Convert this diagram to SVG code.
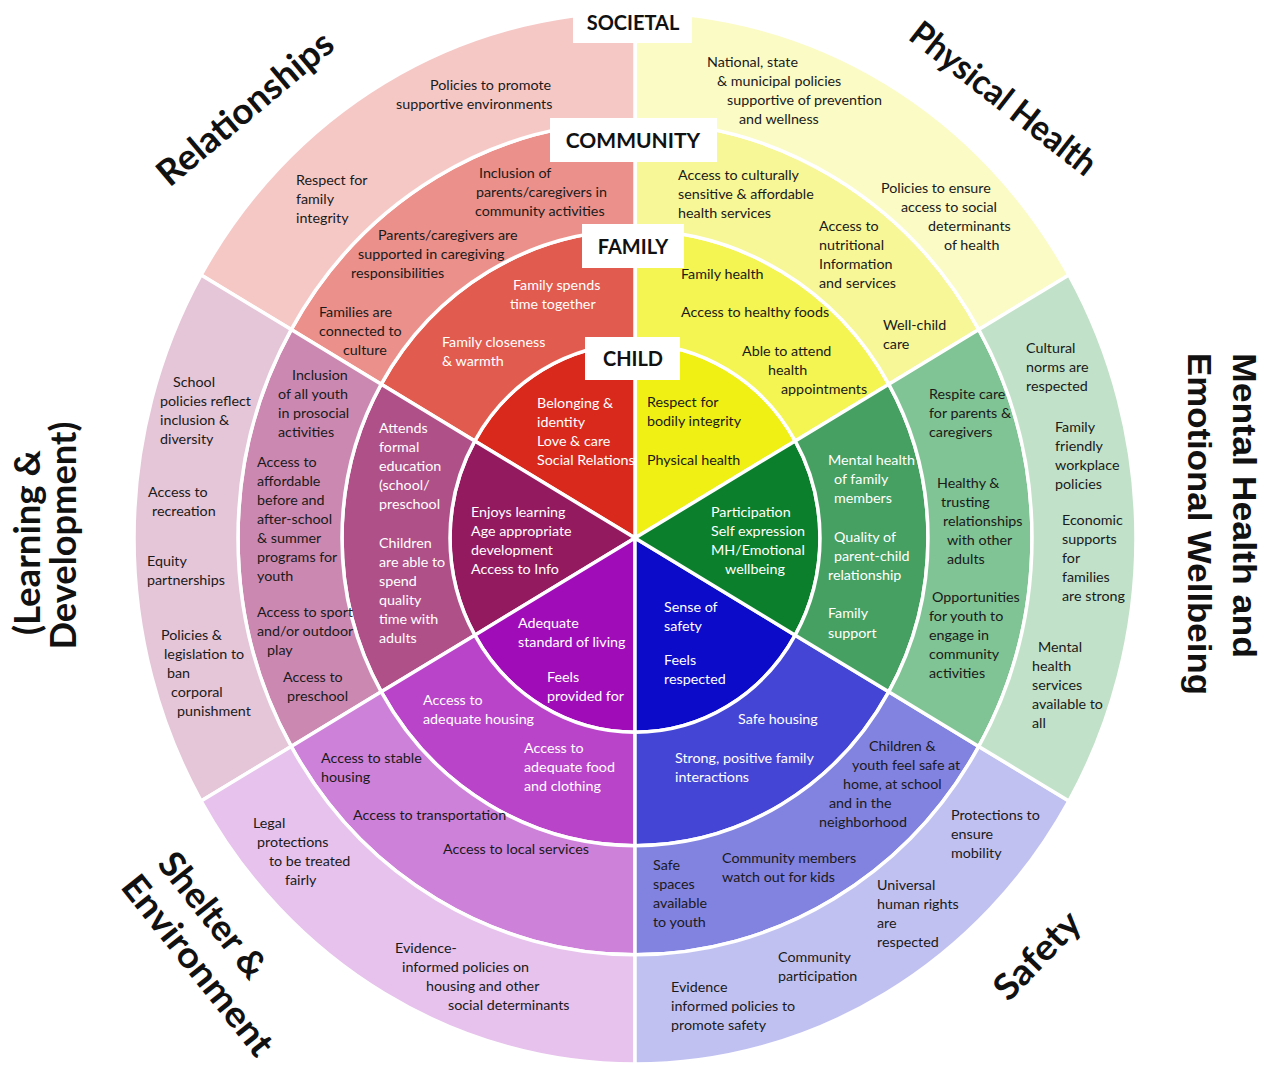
<svg xmlns="http://www.w3.org/2000/svg" width="1271" height="1066" viewBox="0 0 1271 1066">
<style>
.seg{stroke:#fff;stroke-width:3.5;stroke-linejoin:round}
.t{font-family:Lato,"Liberation Sans",sans-serif;font-size:14.3px;fill:#1a1a1a}
.w{fill:#fff}
.box{fill:#fff}
.lab{font-family:Lato,"Liberation Sans",sans-serif;font-weight:bold;font-size:20px;fill:#111;text-anchor:middle}
.big{font-family:Lato,"Liberation Sans",sans-serif;font-weight:bold;font-size:36px;fill:#111;text-anchor:middle}
.big2{font-family:"Liberation Sans",Arial,sans-serif;font-weight:bold;font-size:34px;fill:#111;text-anchor:middle}
</style>
<rect width="1271" height="1066" fill="#fff"/>

<!-- CHILD ring -->
<g id="phy-child"><path class="seg" fill="#f0f014" d="M635,538 L795.21,440.88 A185,194.25 0 0 0 635,343.75 Z"/>
<text class="t"><tspan x="647" y="407">Respect for</tspan><tspan x="647" y="426">bodily integrity</tspan><tspan x="647" y="465">Physical health</tspan></text></g>
<g id="rel-child"><path class="seg" fill="#d9291d" d="M635,538 L635,343.75 A185,194.25 0 0 0 474.79,440.88 Z"/>
<text class="t w"><tspan x="537" y="408">Belonging &amp;</tspan><tspan x="537" y="427">identity</tspan><tspan x="537" y="446">Love &amp; care</tspan><tspan x="537" y="465">Social Relations</tspan></text></g>
<g id="lea-child"><path class="seg" fill="#941a60" d="M635,538 L474.79,440.88 A185,194.25 0 0 0 474.79,635.13 Z"/>
<text class="t w"><tspan x="471" y="517">Enjoys learning</tspan><tspan x="471" y="536">Age appropriate</tspan><tspan x="471" y="555">development</tspan><tspan x="471" y="574">Access to Info</tspan></text></g>
<g id="she-child"><path class="seg" fill="#a00db8" d="M635,538 L474.79,635.13 A185,194.25 0 0 0 635,732.25 Z"/>
<text class="t w"><tspan x="518" y="628">Adequate</tspan><tspan x="518" y="647">standard of living</tspan><tspan x="547" y="682">Feels</tspan><tspan x="547" y="701">provided for</tspan></text></g>
<g id="saf-child"><path class="seg" fill="#0b0bc9" d="M635,538 L635,732.25 A185,194.25 0 0 0 795.21,635.13 Z"/>
<text class="t w"><tspan x="664" y="612">Sense of</tspan><tspan x="664" y="631">safety</tspan><tspan x="664" y="665">Feels</tspan><tspan x="664" y="684">respected</tspan></text></g>
<g id="men-child"><path class="seg" fill="#0b7f2c" d="M635,538 L795.21,635.13 A185,194.25 0 0 0 795.21,440.88 Z"/>
<text class="t w"><tspan x="711" y="517">Participation</tspan><tspan x="711" y="536">Self expression</tspan><tspan x="711" y="555">MH/Emotional</tspan><tspan x="725" y="574">wellbeing</tspan></text></g>

<!-- FAMILY ring -->
<g id="phy-family"><path class="seg" fill="#f4f452" d="M888.74,384.17 A293,307.65 0 0 0 635,230.35 L635,343.75 A185,194.25 0 0 1 795.21,440.88 Z"/>
<text class="t"><tspan x="681" y="279">Family health</tspan><tspan x="681" y="317">Access to healthy foods</tspan><tspan x="742" y="356">Able to attend</tspan><tspan x="768" y="375">health</tspan><tspan x="781" y="394">appointments</tspan></text></g>
<g id="rel-family"><path class="seg" fill="#e25b4f" d="M635,230.35 A293,307.65 0 0 0 381.26,384.17 L474.79,440.88 A185,194.25 0 0 1 635,343.75 Z"/>
<text class="t w"><tspan x="513" y="290">Family spends</tspan><tspan x="510" y="309">time together</tspan><tspan x="442" y="347">Family closeness</tspan><tspan x="442" y="366">&amp; warmth</tspan></text></g>
<g id="lea-family"><path class="seg" fill="#b05088" d="M381.26,384.17 A293,307.65 0 0 0 381.26,691.83 L474.79,635.13 A185,194.25 0 0 1 474.79,440.88 Z"/>
<text class="t w"><tspan x="379" y="433">Attends</tspan><tspan x="379" y="452">formal</tspan><tspan x="379" y="471">education</tspan><tspan x="379" y="490">(school/</tspan><tspan x="379" y="509">preschool</tspan><tspan x="379" y="548">Children</tspan><tspan x="379" y="567">are able to</tspan><tspan x="379" y="586">spend</tspan><tspan x="379" y="605">quality</tspan><tspan x="379" y="624">time with</tspan><tspan x="379" y="643">adults</tspan></text></g>
<g id="she-family"><path class="seg" fill="#b944c9" d="M381.26,691.83 A293,307.65 0 0 0 635,845.65 L635,732.25 A185,194.25 0 0 1 474.79,635.13 Z"/>
<text class="t w"><tspan x="423" y="705">Access to</tspan><tspan x="423" y="724">adequate housing</tspan><tspan x="524" y="753">Access to</tspan><tspan x="524" y="772">adequate food</tspan><tspan x="524" y="791">and clothing</tspan></text></g>
<g id="saf-family"><path class="seg" fill="#4545d5" d="M635,845.65 A293,307.65 0 0 0 888.74,691.83 L795.21,635.13 A185,194.25 0 0 1 635,732.25 Z"/>
<text class="t w"><tspan x="738" y="724">Safe housing</tspan><tspan x="675" y="763">Strong, positive family</tspan><tspan x="675" y="782">interactions</tspan></text></g>
<g id="men-family"><path class="seg" fill="#45a061" d="M888.74,691.83 A293,307.65 0 0 0 888.74,384.17 L795.21,440.88 A185,194.25 0 0 1 795.21,635.13 Z"/>
<text class="t w"><tspan x="828" y="465">Mental health</tspan><tspan x="834" y="484">of family</tspan><tspan x="834" y="503">members</tspan><tspan x="834" y="542">Quality of</tspan><tspan x="834" y="561">parent-child</tspan><tspan x="828" y="580">relationship</tspan><tspan x="828" y="618">Family</tspan><tspan x="828" y="638">support</tspan></text></g>

<!-- COMMUNITY ring -->
<g id="phy-community"><path class="seg" fill="#f7f797" d="M978.81,329.57 A397,416.85 0 0 0 635,121.15 L635,230.35 A293,307.65 0 0 1 888.74,384.17 Z"/>
<text class="t"><tspan x="678" y="180">Access to culturally</tspan><tspan x="678" y="199">sensitive &amp; affordable</tspan><tspan x="678" y="218">health services</tspan><tspan x="819" y="231">Access to</tspan><tspan x="819" y="250">nutritional</tspan><tspan x="819" y="269">Information</tspan><tspan x="819" y="288">and services</tspan><tspan x="883" y="330">Well-child</tspan><tspan x="883" y="349">care</tspan></text></g>
<g id="rel-community"><path class="seg" fill="#eb908a" d="M635,121.15 A397,416.85 0 0 0 291.19,329.57 L381.26,384.17 A293,307.65 0 0 1 635,230.35 Z"/>
<text class="t"><tspan x="479" y="178">Inclusion of</tspan><tspan x="476" y="197">parents/caregivers in</tspan><tspan x="475" y="216">community activities</tspan><tspan x="378" y="240">Parents/caregivers are</tspan><tspan x="358" y="259">supported in caregiving</tspan><tspan x="351" y="278">responsibilities</tspan><tspan x="319" y="317">Families are</tspan><tspan x="319" y="336">connected to</tspan><tspan x="343" y="355">culture</tspan></text></g>
<g id="lea-community"><path class="seg" fill="#cb89b1" d="M291.19,329.57 A397,416.85 0 0 0 291.19,746.43 L381.26,691.83 A293,307.65 0 0 1 381.26,384.17 Z"/>
<text class="t"><tspan x="292" y="380">Inclusion</tspan><tspan x="278" y="399">of all youth</tspan><tspan x="278" y="418">in prosocial</tspan><tspan x="278" y="437">activities</tspan><tspan x="257" y="467">Access to</tspan><tspan x="257" y="486">affordable</tspan><tspan x="257" y="505">before and</tspan><tspan x="257" y="524">after-school</tspan><tspan x="257" y="543">&amp; summer</tspan><tspan x="257" y="562">programs for</tspan><tspan x="257" y="581">youth</tspan><tspan x="257" y="617">Access to sport</tspan><tspan x="257" y="636">and/or outdoor</tspan><tspan x="267" y="655">play</tspan><tspan x="283" y="682">Access to</tspan><tspan x="287" y="701">preschool</tspan></text></g>
<g id="she-community"><path class="seg" fill="#cd81d9" d="M291.19,746.43 A397,416.85 0 0 0 635,954.85 L635,845.65 A293,307.65 0 0 1 381.26,691.83 Z"/>
<text class="t"><tspan x="321" y="763">Access to stable</tspan><tspan x="321" y="782">housing</tspan><tspan x="353" y="820">Access to transportation</tspan><tspan x="443" y="854">Access to local services</tspan></text></g>
<g id="saf-community"><path class="seg" fill="#8282e1" d="M635,954.85 A397,416.85 0 0 0 978.81,746.43 L888.74,691.83 A293,307.65 0 0 1 635,845.65 Z"/>
<text class="t"><tspan x="869" y="751">Children &amp;</tspan><tspan x="852" y="770">youth feel safe at</tspan><tspan x="843" y="789">home, at school</tspan><tspan x="829" y="808">and in the</tspan><tspan x="819" y="827">neighborhood</tspan><tspan x="653" y="870">Safe</tspan><tspan x="653" y="889">spaces</tspan><tspan x="653" y="908">available</tspan><tspan x="653" y="927">to youth</tspan><tspan x="722" y="863">Community members</tspan><tspan x="722" y="882">watch out for kids</tspan></text></g>
<g id="men-community"><path class="seg" fill="#80c394" d="M978.81,746.43 A397,416.85 0 0 0 978.81,329.57 L888.74,384.17 A293,307.65 0 0 1 888.74,691.83 Z"/>
<text class="t"><tspan x="929" y="399">Respite care</tspan><tspan x="929" y="418">for parents &amp;</tspan><tspan x="929" y="437">caregivers</tspan><tspan x="937" y="488">Healthy &amp;</tspan><tspan x="941" y="507">trusting</tspan><tspan x="943" y="526">relationships</tspan><tspan x="947" y="545">with other</tspan><tspan x="947" y="564">adults</tspan><tspan x="932" y="602">Opportunities</tspan><tspan x="929" y="621">for youth to</tspan><tspan x="929" y="640">engage in</tspan><tspan x="929" y="659">community</tspan><tspan x="929" y="678">activities</tspan></text></g>

<!-- SOCIETAL ring -->
<g id="phy-societal"><path class="seg" fill="#fbfbc6" d="M1068.88,274.97 A501,526.05 0 0 0 635,11.95 L635,121.15 A397,416.85 0 0 1 978.81,329.57 Z"/>
<text class="t"><tspan x="707" y="67">National, state</tspan><tspan x="717" y="86">&amp; municipal policies</tspan><tspan x="727" y="105">supportive of prevention</tspan><tspan x="739" y="124">and wellness</tspan><tspan x="881" y="193">Policies to ensure</tspan><tspan x="901" y="212">access to social</tspan><tspan x="928" y="231">determinants</tspan><tspan x="944" y="250">of health</tspan></text></g>
<g id="rel-societal"><path class="seg" fill="#f5c8c6" d="M635,11.95 A501,526.05 0 0 0 201.12,274.97 L291.19,329.57 A397,416.85 0 0 1 635,121.15 Z"/>
<text class="t"><tspan x="430" y="90">Policies to promote</tspan><tspan x="396" y="109">supportive environments</tspan><tspan x="296" y="185">Respect for</tspan><tspan x="296" y="204">family</tspan><tspan x="296" y="223">integrity</tspan></text></g>
<g id="lea-societal"><path class="seg" fill="#e5c5d8" d="M201.12,274.97 A501,526.05 0 0 0 201.12,801.03 L291.19,746.43 A397,416.85 0 0 1 291.19,329.57 Z"/>
<text class="t"><tspan x="173" y="387">School</tspan><tspan x="160" y="406">policies reflect</tspan><tspan x="160" y="425">inclusion &amp;</tspan><tspan x="160" y="444">diversity</tspan><tspan x="148" y="497">Access to</tspan><tspan x="152" y="516">recreation</tspan><tspan x="147" y="566">Equity</tspan><tspan x="147" y="585">partnerships</tspan><tspan x="161" y="640">Policies &amp;</tspan><tspan x="164" y="659">legislation to</tspan><tspan x="167" y="678">ban</tspan><tspan x="171" y="697">corporal</tspan><tspan x="177" y="716">punishment</tspan></text></g>
<g id="she-societal"><path class="seg" fill="#e6c2ec" d="M201.12,801.03 A501,526.05 0 0 0 635,1064.05 L635,954.85 A397,416.85 0 0 1 291.19,746.43 Z"/>
<text class="t"><tspan x="253" y="828">Legal</tspan><tspan x="257" y="847">protections</tspan><tspan x="269" y="866">to be treated</tspan><tspan x="285" y="885">fairly</tspan><tspan x="395" y="953">Evidence-</tspan><tspan x="402" y="972">informed policies on</tspan><tspan x="426" y="991">housing and other</tspan><tspan x="448" y="1010">social determinants</tspan></text></g>
<g id="saf-societal"><path class="seg" fill="#c1c1f1" d="M635,1064.05 A501,526.05 0 0 0 1068.88,801.03 L978.81,746.43 A397,416.85 0 0 1 635,954.85 Z"/>
<text class="t"><tspan x="951" y="820">Protections to</tspan><tspan x="951" y="839">ensure</tspan><tspan x="951" y="858">mobility</tspan><tspan x="877" y="890">Universal</tspan><tspan x="877" y="909">human rights</tspan><tspan x="877" y="928">are</tspan><tspan x="877" y="947">respected</tspan><tspan x="778" y="962">Community</tspan><tspan x="778" y="981">participation</tspan><tspan x="671" y="992">Evidence</tspan><tspan x="671" y="1011">informed policies to</tspan><tspan x="671" y="1030">promote safety</tspan></text></g>
<g id="men-societal"><path class="seg" fill="#c1e1c9" d="M1068.88,801.03 A501,526.05 0 0 0 1068.88,274.97 L978.81,329.57 A397,416.85 0 0 1 978.81,746.43 Z"/>
<text class="t"><tspan x="1026" y="353">Cultural</tspan><tspan x="1026" y="372">norms are</tspan><tspan x="1026" y="391">respected</tspan><tspan x="1055" y="432">Family</tspan><tspan x="1055" y="451">friendly</tspan><tspan x="1055" y="470">workplace</tspan><tspan x="1055" y="489">policies</tspan><tspan x="1062" y="525">Economic</tspan><tspan x="1062" y="544">supports</tspan><tspan x="1062" y="563">for</tspan><tspan x="1062" y="582">families</tspan><tspan x="1062" y="601">are strong</tspan><tspan x="1038" y="652">Mental</tspan><tspan x="1032" y="671">health</tspan><tspan x="1032" y="690">services</tspan><tspan x="1032" y="709">available to</tspan><tspan x="1032" y="728">all</tspan></text></g>

<!-- ring level labels -->
<g id="label-societal"><rect class="box" x="573" y="0" width="119" height="43"/><text class="lab" x="633" y="30">SOCIETAL</text></g>
<g id="label-community"><rect class="box" x="550" y="118" width="167" height="44"/><text class="lab" x="633" y="147.5" style="font-size:21px">COMMUNITY</text></g>
<g id="label-family"><rect class="box" x="582" y="224" width="102" height="44"/><text class="lab" x="633" y="254">FAMILY</text></g>
<g id="label-child"><rect class="box" x="585" y="337" width="95" height="43"/><text class="lab" x="633" y="366">CHILD</text></g>

<!-- domain labels -->
<g id="domain-relationships"><text class="big" transform="translate(253,118) rotate(-40)" textLength="218" lengthAdjust="spacingAndGlyphs">Relationships</text></g>
<g id="domain-physical"><text class="big" style="font-size:35px" transform="translate(996,108) rotate(38)" textLength="226" lengthAdjust="spacingAndGlyphs">Physical Health</text></g>
<g id="domain-mental"><text class="big2" transform="translate(1233,505.5) rotate(90)" textLength="305" lengthAdjust="spacingAndGlyphs">Mental Health and</text>
<text class="big2" transform="translate(1188,524) rotate(90)" textLength="342" lengthAdjust="spacingAndGlyphs">Emotional Wellbeing</text></g>
<g id="domain-learning"><text class="big" style="font-size:37px" transform="translate(40,542.5) rotate(-90)" textLength="185" lengthAdjust="spacingAndGlyphs">(Learning &amp;</text>
<text class="big" style="font-size:37px" transform="translate(76,535.5) rotate(-90)" textLength="228" lengthAdjust="spacingAndGlyphs">Development)</text></g>
<g id="domain-shelter"><text class="big" transform="translate(203,923) rotate(51.5)" textLength="150" lengthAdjust="spacingAndGlyphs">Shelter &amp;</text>
<text class="big" transform="translate(188,973) rotate(51.5)" textLength="220" lengthAdjust="spacingAndGlyphs">Environment</text></g>
<g id="domain-safety"><text class="big" transform="translate(1046,964) rotate(-46)" textLength="108" lengthAdjust="spacingAndGlyphs">Safety</text></g>
</svg>
